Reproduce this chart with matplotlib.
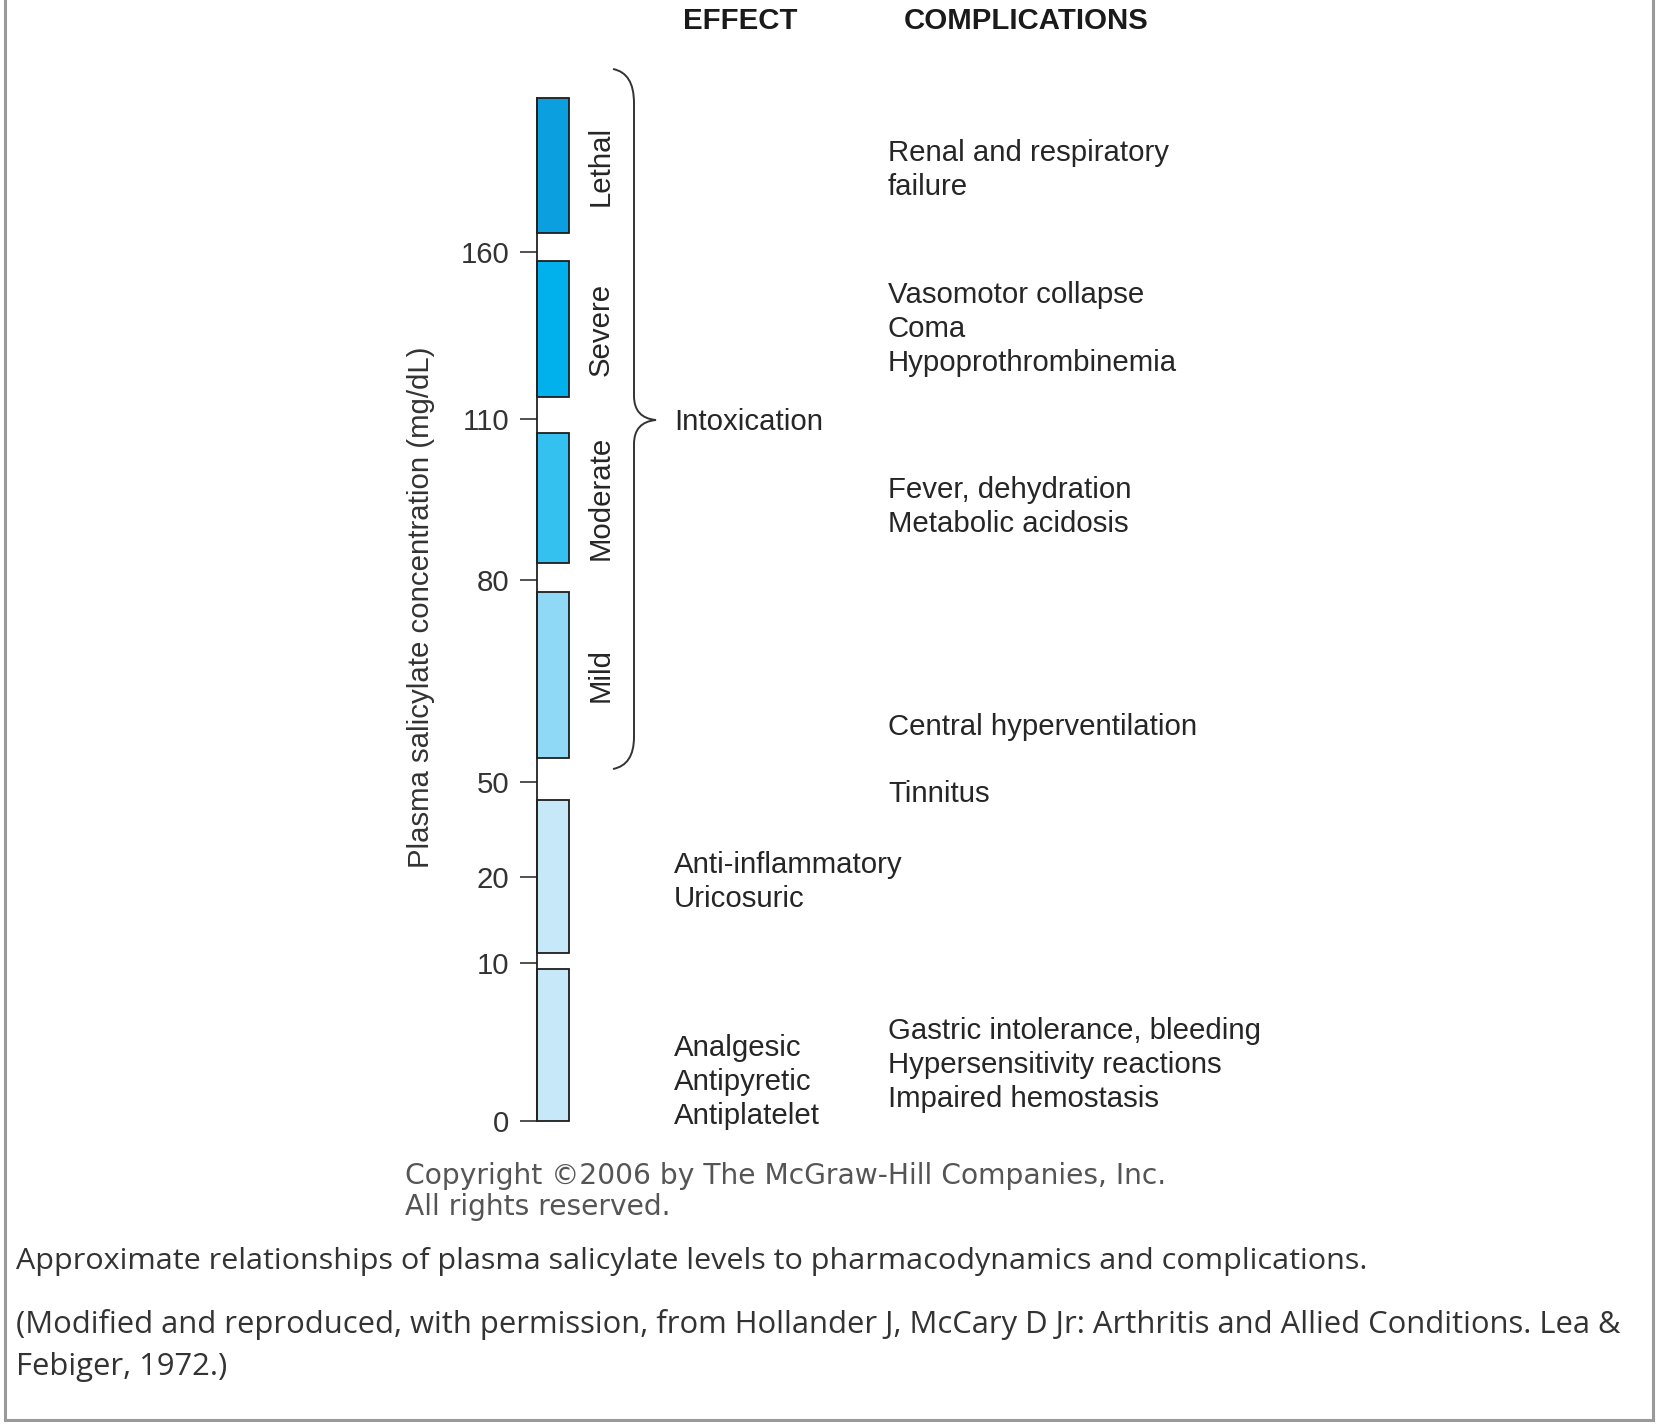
import numpy as np
import matplotlib
matplotlib.use('Agg')
import matplotlib.pyplot as plt
from matplotlib.path import Path
from matplotlib.patches import PathPatch
from matplotlib.lines import Line2D

plt.rcParams['font.family'] = ['Liberation Sans', 'DejaVu Sans']

W, H, DPI = 1657, 1427, 100

# ---------------- data ----------------
band_names = ['Therapeutic low', 'Therapeutic high', 'Mild', 'Moderate', 'Severe', 'Lethal']
band_start = [0, 11.1, 53.5, 83.1, 116.3, 165.4]
band_end = [9.6, 44.3, 78.3, 107.3, 157.2, 206.0]
band_labels = ['', '', 'Mild', 'Moderate', 'Severe', 'Lethal']
band_colors = ['#c7e8f9', '#c7e8f9', '#8fd9f7', '#35c1ef', '#00b1ec', '#0b9fe0']

tick_values = [0, 10, 20, 50, 80, 110, 160]
tick_labels = ['0', '10', '20', '50', '80', '110', '160']
# the published axis is not linear: visual distance (px) of each tick above 0
scale_values = [0, 10, 20, 50, 80, 110, 160, 260]
scale_pixels = [0, 158.6, 244.2, 339.3, 541.1, 702.8, 869.8, 1203.8]

y_label = 'Plasma salicylate concentration (mg/dL)'
header_effect = 'EFFECT'
header_complications = 'COMPLICATIONS'

effects = ['Intoxication', 'Anti-inflammatory\nUricosuric', 'Analgesic\nAntipyretic\nAntiplatelet']
complications = ['Renal and respiratory\nfailure',
                 'Vasomotor collapse\nComa\nHypoprothrombinemia',
                 'Fever, dehydration\nMetabolic acidosis',
                 'Central hyperventilation',
                 'Tinnitus',
                 'Gastric intolerance, bleeding\nHypersensitivity reactions\nImpaired hemostasis']

copyright_text = 'Copyright \u00a92006 by The McGraw-Hill Companies, Inc.\nAll rights reserved.'
caption1 = 'Approximate relationships of plasma salicylate levels to pharmacodynamics and complications.'
caption2a = '(Modified and reproduced, with permission, from Hollander J, McCary D Jr: Arthritis and Allied Conditions. Lea &'
caption2b = 'Febiger, 1972.)'

# ---------------- figure ----------------
fig = plt.figure(figsize=(W / DPI, H / DPI), dpi=DPI)
fig.patch.set_facecolor('white')


def fwd(v):
    return np.interp(v, scale_values, scale_pixels)


def inv(p):
    return np.interp(p, scale_pixels, scale_values)


def fx(x):
    return x / W


def fy(y):
    return 1 - y / H


FS = 21.2
text_col = '#262626'

y0_img = 1121.3          # image row of value 0
top_val = band_end[-1]
ax_h = fwd(top_val) - fwd(0)
ax = fig.add_axes([fx(537), fy(y0_img), 32 / W, ax_h / H])
ax.set_yscale('function', functions=(fwd, inv))
ax.set_ylim(0, top_val)
ax.set_xlim(0, 1)

for s, e, c, lab in zip(band_start, band_end, band_colors, band_labels):
    ax.bar(0.5, e - s, bottom=s, width=1.0, color=c, edgecolor='#1e1e1e',
           linewidth=1.3, clip_on=False, zorder=2)
    if lab:
        mid = inv((fwd(s) + fwd(e)) / 2)
        ax.text(2.0, mid, lab, rotation=90, ha='center', va='center',
                fontsize=FS, color=text_col, clip_on=False)

for sp in ['top', 'right', 'bottom']:
    ax.spines[sp].set_visible(False)
ax.spines['left'].set_color('#222222')
ax.spines['left'].set_linewidth(1.3)
ax.set_xticks([])
ax.set_yticks(tick_values)
ax.set_yticklabels(tick_labels)
ax.yaxis.set_minor_locator(matplotlib.ticker.NullLocator())
ax.tick_params(axis='y', direction='out', length=12, width=1.2, color='#333333',
               pad=8, labelsize=FS, labelcolor='#333333')

# y label
fig.text(fx(421), fy(607), y_label, rotation=90, ha='center', va='center',
         fontsize=FS, color='#333333')

# headers
fig.text(fx(740), fy(21), header_effect, ha='center', va='center',
         fontsize=FS, fontweight='bold', color='#1a1a1a')
fig.text(fx(1026), fy(21), header_complications, ha='center', va='center',
         fontsize=FS, fontweight='bold', color='#1a1a1a')

LS = 1.26
# effects column
eff_pos = [(674, 422), (674, 882), (674, 1082)]
for t, (x, y) in zip(effects, eff_pos):
    fig.text(fx(x), fy(y), t, ha='left', va='center', fontsize=FS,
             color=text_col, linespacing=LS)

# complications column
comp_pos = [(888, 170), (888, 329), (888, 507), (888, 727), (888, 794), (888, 1065)]
for t, (x, y) in zip(complications, comp_pos):
    fig.text(fx(x), fy(y), t, ha='left', va='center', fontsize=FS,
             color=text_col, linespacing=LS)

# curly brace (image pixel coordinates)
bx, tipx, tipy = 634, 656, 420
top, bot, endx = 69, 769, 613
verts = [(endx, top), (bx, top + 4), (bx, top + 34),
         (bx, tipy - 24),
         (bx, tipy - 2), (tipx, tipy),
         (bx, tipy + 2), (bx, tipy + 24),
         (bx, bot - 32),
         (bx, bot - 4), (endx, bot)]
codes = [Path.MOVETO, Path.CURVE3, Path.CURVE3,
         Path.LINETO,
         Path.CURVE3, Path.CURVE3,
         Path.CURVE3, Path.CURVE3,
         Path.LINETO,
         Path.CURVE3, Path.CURVE3]
brace = PathPatch(Path([(fx(x), fy(y)) for x, y in verts], codes),
                  transform=fig.transFigure, fill=False, edgecolor='#333333',
                  linewidth=1.4)
fig.add_artist(brace)

# copyright + captions
renderer = fig.canvas.get_renderer()


def fit(t, target):
    bb = t.get_window_extent(renderer)
    t.set_fontsize(t.get_fontsize() * target / bb.width)


c1 = fig.text(fx(405), fy(1176), copyright_text.split('\n')[0], ha='left', va='center',
              fontsize=17, color='#555555', family=['DejaVu Sans'])
fit(c1, 762)
c2 = fig.text(fx(405), fy(1207), copyright_text.split('\n')[1], ha='left', va='center',
              fontsize=c1.get_fontsize(), color='#555555', family=['DejaVu Sans'])

cap1 = fig.text(fx(16), fy(1261), caption1, ha='left', va='center', fontsize=19,
                color='#333333', family=['Open Sans', 'DejaVu Sans'])
fit(cap1, 1347)
cap2 = fig.text(fx(16), fy(1325), caption2a, ha='left', va='center', fontsize=19,
                color='#333333', family=['Open Sans', 'DejaVu Sans'])
fit(cap2, 1606)
cap3 = fig.text(fx(16), fy(1367), caption2b, ha='left', va='center',
                fontsize=cap2.get_fontsize(), color='#333333',
                family=['Open Sans', 'DejaVu Sans'])

# frame
bc = '#9a9a9a'
fig.add_artist(Line2D([fx(5), fx(5)], [fy(0), fy(1420)], transform=fig.transFigure,
                      color=bc, linewidth=2.2))
fig.add_artist(Line2D([fx(1653), fx(1653)], [fy(0), fy(1420)], transform=fig.transFigure,
                      color=bc, linewidth=2.2))
fig.add_artist(Line2D([fx(5), fx(1653)], [fy(1420), fy(1420)], transform=fig.transFigure,
                      color=bc, linewidth=2.2))

fig.savefig('out.png', dpi=DPI, facecolor='white')
